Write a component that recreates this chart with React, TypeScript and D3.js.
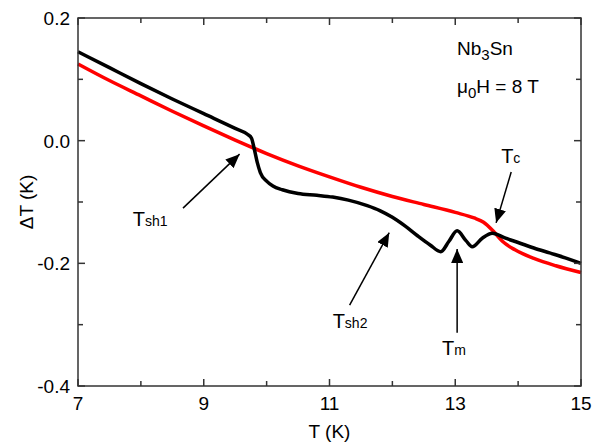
import React, { useEffect, useRef } from "react";
import * as d3 from "d3";

const blackT = [7, 7.5, 8, 8.5, 9, 9.5, 9.7, 9.76, 9.8, 9.85, 9.9, 10.0, 10.1, 10.25, 10.5, 10.8, 11.05, 11.3, 11.6, 11.8, 12.0, 12.2, 12.4, 12.6, 12.77, 12.9, 13.03, 13.17, 13.27, 13.43, 13.59, 13.8, 14.0, 14.25, 14.5, 14.75, 15];
const blackDT = [0.145, 0.119, 0.093, 0.068, 0.044, 0.02, 0.01, 0.004, -0.012, -0.035, -0.052, -0.066, -0.074, -0.08, -0.086, -0.089, -0.092, -0.097, -0.106, -0.114, -0.125, -0.139, -0.155, -0.17, -0.181, -0.164, -0.147, -0.163, -0.173, -0.159, -0.151, -0.159, -0.166, -0.175, -0.183, -0.191, -0.2];

// red curve
const redT = [7, 7.5, 8, 8.5, 9, 9.5, 10, 10.5, 11, 11.5, 12, 12.5, 13, 13.3, 13.45, 13.6, 13.75, 13.95, 14.25, 14.6, 15];
const redDT = [0.125, 0.098, 0.073, 0.048, 0.024, 0.001, -0.021, -0.041, -0.059, -0.076, -0.091, -0.104, -0.117, -0.126, -0.133, -0.147, -0.164, -0.178, -0.192, -0.204, -0.215];

const xMajor = [7, 9, 11, 13, 15];
const xMinor = [8, 10, 12, 14];
const yMajor = [0.2, 0.0, -0.2, -0.4];
const yMinor = [0.1, -0.1, -0.3];

// arrow annotations
const arrowLabels = ["T", "T", "T", "T"];
const arrowSubs = ["sh1", "sh2", "m", "c"];
const arrowText = [[7.87, -0.139], [11.05, -0.305], [12.79, -0.349], [13.73, -0.036]];
const arrowTail = [[8.67, -0.11], [11.32, -0.268], [13.03, -0.313], [13.89, -0.051]];
const arrowTip = [[9.57, -0.022], [11.95, -0.15], [13.03, -0.1765], [13.65, -0.134]];

const W = 594, H = 446;
const margin = { left: 78, right: 13, top: 18, bottom: 60 };
const font = "'Liberation Sans', Arial, sans-serif";

export default function App() {
  const ref = useRef<SVGSVGElement>(null);

  useEffect(() => {
    const svg = d3.select(ref.current);
    svg.selectAll("*").remove();

    const x = d3.scaleLinear().domain([7, 15]).range([margin.left, W - margin.right]);
    const y = d3.scaleLinear().domain([-0.4, 0.2]).range([H - margin.bottom, margin.top]);
    const x0 = x(7), x1 = x(15), y0 = y(-0.4), y1 = y(0.2);

    const defs = svg.append("defs");
    defs.append("marker")
      .attr("id", "head")
      .attr("viewBox", "0 0 14 12")
      .attr("refX", 14).attr("refY", 6)
      .attr("markerWidth", 14).attr("markerHeight", 12)
      .attr("markerUnits", "userSpaceOnUse")
      .attr("orient", "auto")
      .append("path").attr("d", "M0,0 L14,6 L0,12 Z").attr("fill", "#000");

    const line = d3.line<number>().curve(d3.curveMonotoneX);

    svg.append("path")
      .attr("d", line.x((d, i) => x(redT[i])).y(d => y(d))(redDT))
      .attr("fill", "none").attr("stroke", "#ff0000").attr("stroke-width", 3.5);

    svg.append("path")
      .attr("d", line.x((d, i) => x(blackT[i])).y(d => y(d))(blackDT))
      .attr("fill", "none").attr("stroke", "#000").attr("stroke-width", 3.5);

    // frame
    svg.append("rect")
      .attr("x", x0).attr("y", y1).attr("width", x1 - x0).attr("height", y0 - y1)
      .attr("fill", "none").attr("stroke", "#333").attr("stroke-width", 1.5);

    const ticks = svg.append("g").attr("stroke", "#333").attr("stroke-width", 1.5);
    const tx = (vals: number[], len: number) => vals.forEach(v => {
      ticks.append("line").attr("x1", x(v)).attr("x2", x(v)).attr("y1", y0).attr("y2", y0 - len);
      ticks.append("line").attr("x1", x(v)).attr("x2", x(v)).attr("y1", y1).attr("y2", y1 + len);
    });
    const ty = (vals: number[], len: number) => vals.forEach(v => {
      ticks.append("line").attr("y1", y(v)).attr("y2", y(v)).attr("x1", x0).attr("x2", x0 + len);
      ticks.append("line").attr("y1", y(v)).attr("y2", y(v)).attr("x1", x1).attr("x2", x1 - len);
    });
    tx(xMajor, 7); tx(xMinor, 5); ty(yMajor, 7); ty(yMinor, 5);

    svg.selectAll(".xl").data(xMajor).enter().append("text")
      .attr("x", d => x(d)).attr("y", y0 + 24)
      .attr("text-anchor", "middle").attr("font-size", 19).attr("font-family", font)
      .text(d => d3.format("d")(d));

    svg.selectAll(".yl").data(yMajor).enter().append("text")
      .attr("x", x0 - 8).attr("y", d => y(d) + 7)
      .attr("text-anchor", "end").attr("font-size", 19).attr("font-family", font)
      .text(d => d3.format(".1f")(d).replace("−", "-"));

    svg.append("text")
      .attr("x", (x0 + x1) / 2).attr("y", 438)
      .attr("text-anchor", "middle").attr("font-size", 19).attr("font-family", font)
      .text("T (K)");

    svg.append("text")
      .attr("transform", `translate(33,${(y0 + y1) / 2}) rotate(-90)`)
      .attr("text-anchor", "middle").attr("font-size", 19).attr("font-family", font)
      .text("ΔT (K)");

    // sample / field
    const t1 = svg.append("text").attr("x", 457).attr("y", 55)
      .attr("font-size", 19).attr("font-family", font);
    t1.append("tspan").text("Nb");
    t1.append("tspan").attr("dy", 5).attr("font-size", 15).text("3");
    t1.append("tspan").attr("dy", -5).text("Sn");

    const t2 = svg.append("text").attr("x", 457).attr("y", 93)
      .attr("font-size", 19).attr("font-family", font);
    t2.append("tspan").text("μ");
    t2.append("tspan").attr("dy", 5).attr("font-size", 15).text("0");
    t2.append("tspan").attr("dy", -5).text("H = 8 T");

    // arrows
    arrowSubs.forEach((s, i) => {
      svg.append("line")
        .attr("x1", x(arrowTail[i][0])).attr("y1", y(arrowTail[i][1]))
        .attr("x2", x(arrowTip[i][0])).attr("y2", y(arrowTip[i][1]))
        .attr("stroke", "#000").attr("stroke-width", 1.5)
        .attr("marker-end", "url(#head)");
      const t = svg.append("text")
        .attr("x", x(arrowText[i][0])).attr("y", y(arrowText[i][1]))
        .attr("font-size", 20).attr("font-family", font);
      t.append("tspan").text(arrowLabels[i]);
      t.append("tspan").attr("font-size", 14).text(s);
    });
  }, []);

  return <svg ref={ref} width={W} height={H} style={{ position: "absolute", left: 0, top: 0, background: "#fff" }} />;
}
